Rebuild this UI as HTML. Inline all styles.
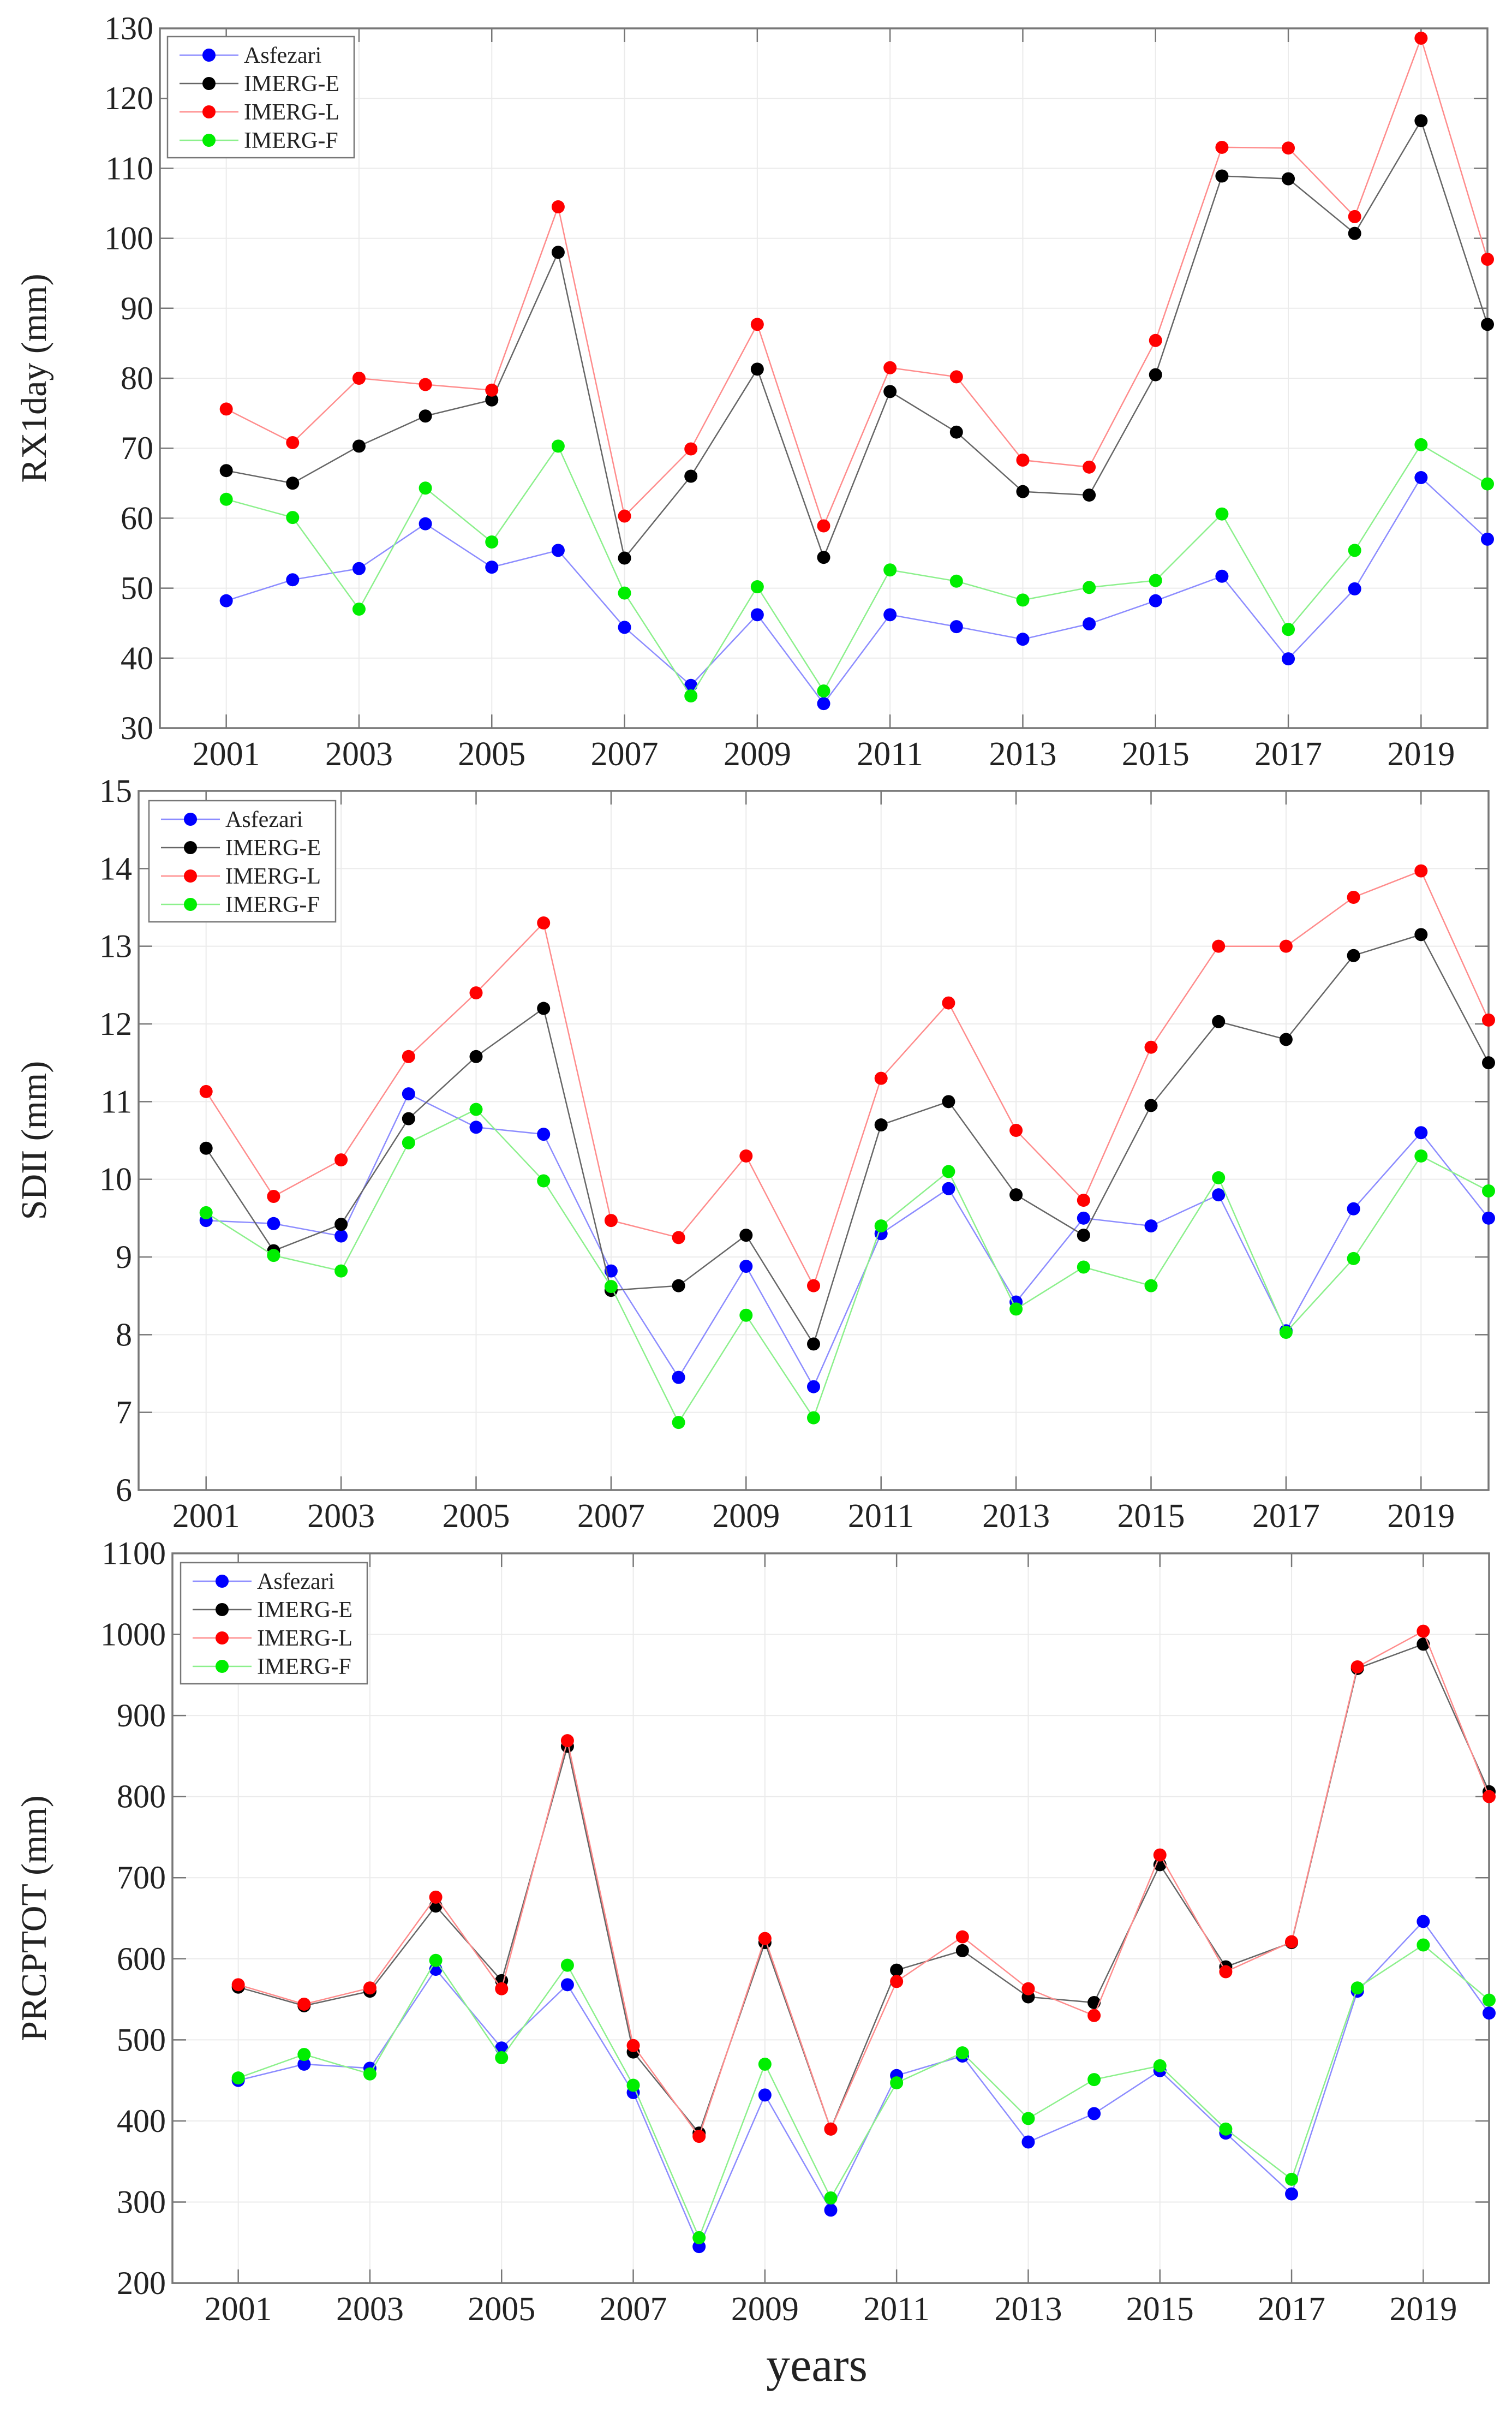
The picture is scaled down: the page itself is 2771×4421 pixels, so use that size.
<!DOCTYPE html>
<html><head><meta charset="utf-8"><style>
html,body{margin:0;padding:0;background:#fff}
svg{display:block}
text{font-family:"Liberation Serif",serif;fill:#222}
</style></head><body>
<svg id="fig" width="2771" height="4421" viewBox="0 0 2771 4421" xmlns="http://www.w3.org/2000/svg">
<rect x="0" y="0" width="2771" height="4421" fill="#fff"/>
</svg>
<script>
const years = [2001,2002,2003,2004,2005,2006,2007,2008,2009,2010,2011,2012,2013,2014,2015,2016,2017,2018,2019,2020];
const seriesNames = ["Asfezari","IMERG-E","IMERG-L","IMERG-F"];
const xTickLabels = [2001,2003,2005,2007,2009,2011,2013,2015,2017,2019];

const rx1Asf = [48.2,51.2,52.8,59.2,53.0,55.4,44.4,36.1,46.2,33.5,46.2,44.5,42.7,44.9,48.2,51.7,39.9,49.9,65.8,57.0];
const rx1E   = [66.8,65.0,70.3,74.6,76.9,98.0,54.3,66.0,81.3,54.4,78.1,72.3,63.8,63.3,80.5,108.9,108.5,100.7,116.8,87.7];
const rx1L   = [75.6,70.8,80.0,79.1,78.3,104.5,60.3,69.9,87.7,58.9,81.5,80.2,68.3,67.3,85.4,113.0,112.9,103.1,128.6,97.0];
const rx1F   = [62.7,60.1,47.0,64.3,56.6,70.3,49.3,34.6,50.2,35.3,52.6,51.0,48.3,50.1,51.1,60.6,44.1,55.4,70.5,64.9];
const rx1Ticks = [30,40,50,60,70,80,90,100,110,120,130];

const sdiiAsf = [9.47,9.43,9.27,11.1,10.67,10.58,8.82,7.45,8.88,7.33,9.3,9.88,8.42,9.5,9.4,9.8,8.05,9.62,10.6,9.5];
const sdiiE   = [10.4,9.08,9.42,10.78,11.58,12.2,8.57,8.63,9.28,7.88,10.7,11.0,9.8,9.28,10.95,12.03,11.8,12.88,13.15,11.5];
const sdiiL   = [11.13,9.78,10.25,11.58,12.4,13.3,9.47,9.25,10.3,8.63,11.3,12.27,10.63,9.73,11.7,13.0,13.0,13.63,13.97,12.05];
const sdiiF   = [9.57,9.02,8.82,10.47,10.9,9.98,8.62,6.87,8.25,6.93,9.4,10.1,8.33,8.87,8.63,10.02,8.03,8.98,10.3,9.85];
const sdiiTicks = [6,7,8,9,10,11,12,13,14,15];

const prcAsf = [450,470,465,587,490,568,435,245,432,290,456,480,374,409,462,385,310,560,646,533];
const prcE   = [565,542,560,665,573,862,485,385,620,390,586,610,553,546,716,590,620,958,988,806];
const prcL   = [568,544,564,676,563,869,493,381,625,390,572,627,563,530,728,584,621,960,1004,800];
const prcF   = [453,482,458,598,478,592,444,256,470,305,447,484,403,451,468,390,328,564,617,549];
const prcTicks = [200,300,400,500,600,700,800,900,1000,1100];

const NS = "http://www.w3.org/2000/svg";
const svg = document.getElementById('fig');
const lineCols = ["#8c8cff","#666666","#ff8c8c","#8cf08c"];
const dotCols = ["#0000ff","#000000","#ff0000","#00ee00"];

function mk(tag, attrs, parent){
  const e = document.createElementNS(NS, tag);
  for (const k in attrs) e.setAttribute(k, attrs[k]);
  (parent||svg).appendChild(e);
  return e;
}

function panel(cfg){
  const g = mk('g', {});
  
  
  const {L,R,T,B,ymin,ymax} = cfg;
  const xs = v => L + (v-2000)/20*(R-L);
  const ys = v => B - (v-ymin)/(ymax-ymin)*(B-T);
  // grid
  cfg.ticks.forEach(t=>{
    const y = ys(t);
    if (t>ymin && t<ymax){
      const gl = mk('line',{x1:L,x2:R,y1:y,y2:y,stroke:'#ebebeb','stroke-width':2},g);
      
      
    }
    mk('line',{x1:L,x2:L+25,y1:y,y2:y,stroke:'#777','stroke-width':2.5},g);
    mk('line',{x1:R,x2:R-25,y1:y,y2:y,stroke:'#777','stroke-width':2.5},g);
    const tl = mk('text',{x:L-12,y:y+20,'font-size':60,'text-anchor':'end'},g);
    tl.textContent = t;
    
    
  });
  xTickLabels.forEach(t=>{
    const x = xs(t);
    const gl = mk('line',{x1:x,x2:x,y1:T,y2:B,stroke:'#ebebeb','stroke-width':2},g);
    
    
    mk('line',{x1:x,x2:x,y1:B,y2:B-25,stroke:'#777','stroke-width':2.5},g);
    mk('line',{x1:x,x2:x,y1:T,y2:T+25,stroke:'#777','stroke-width':2.5},g);
    const tl = mk('text',{x:x,y:B+68,'font-size':62,'text-anchor':'middle'},g);
    tl.textContent = t;
    
    
  });
  const box = mk('rect',{x:L,y:T,width:R-L,height:B-T,fill:'none',stroke:'#777','stroke-width':3.5},g);
  
  
  // series
  cfg.series.forEach((vals,si)=>{
    const pts = vals.map((v,i)=>xs(years[i]).toFixed(1)+','+ys(v).toFixed(1)).join(' ');
    const pl = mk('polyline',{points:pts,fill:'none',stroke:lineCols[si],'stroke-width':2.5},g);
    
    
    vals.forEach((v,i)=>{
      const c = mk('circle',{cx:xs(years[i]),cy:ys(v),r:12,fill:dotCols[si]},g);
      
      
    });
  });
  // legend
  const lg = mk('g',{},g);
  
  
  mk('rect',{x:cfg.lx,y:cfg.ly,width:342,height:222,fill:'#fff',stroke:'#777','stroke-width':2.5},lg);
  seriesNames.forEach((n,si)=>{
    const y = cfg.ly+34+si*52;
    const le = mk('g',{},lg);
    
    
    mk('line',{x1:cfg.lx+22,x2:cfg.lx+130,y1:y,y2:y,stroke:lineCols[si],'stroke-width':2.5},le);
    mk('circle',{cx:cfg.lx+76,cy:y,r:12,fill:dotCols[si]},le);
    const t = mk('text',{x:cfg.lx+140,y:y+14,'font-size':42},le);
    t.textContent = n;
  });
  // y title
  const yt = mk('text',{x:0,y:0,'font-size':66,'text-anchor':'middle',transform:`translate(${cfg.ytx},${(T+B)/2}) rotate(-90)`},g);
  yt.textContent = cfg.ytitle;
  
  
}

panel({name:'rx1day',L:293,R:2726,T:52,B:1334,ymin:30,ymax:130,ticks:rx1Ticks,
  series:[rx1Asf,rx1E,rx1L,rx1F],lx:307,ly:67,ytitle:'RX1day (mm)',ytx:84});
panel({name:'sdii',L:254,R:2728,T:1449,B:2730,ymin:6,ymax:15,ticks:sdiiTicks,
  series:[sdiiAsf,sdiiE,sdiiL,sdiiF],lx:273,ly:1467,ytitle:'SDII (mm)',ytx:84});
panel({name:'prcptot',L:316,R:2729,T:2846,B:4183,ymin:200,ymax:1100,ticks:prcTicks,
  series:[prcAsf,prcE,prcL,prcF],lx:331,ly:2863,ytitle:'PRCPTOT (mm)',ytx:84});

const xt = mk('text',{x:1497,y:4362,'font-size':88,'text-anchor':'middle'});
xt.textContent = 'years';


</script>
</body></html>
